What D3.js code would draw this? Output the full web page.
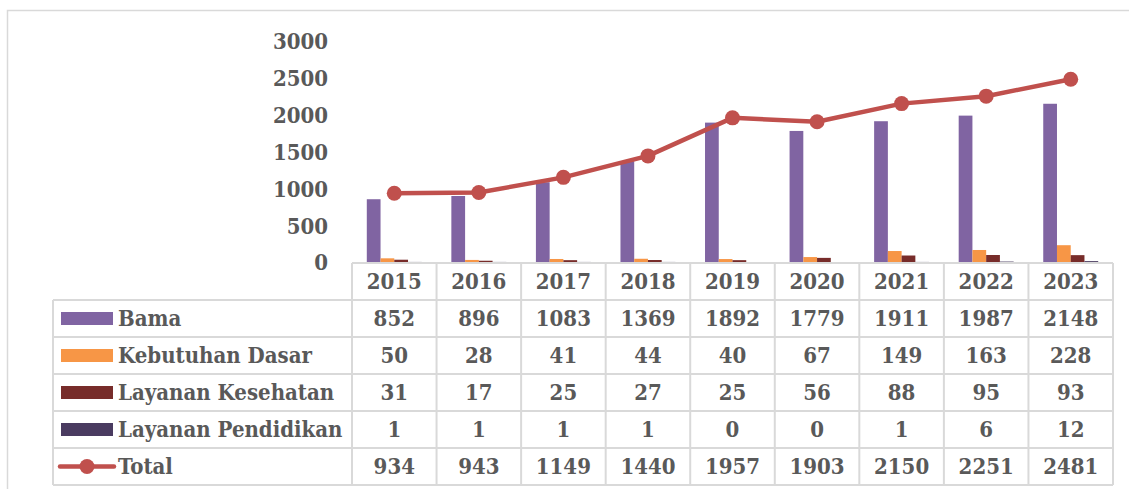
<!DOCTYPE html>
<html lang="id">
<head>
<meta charset="UTF-8">
<script src="https://d3js.org/d3.v7.min.js"></script>
<title>Bama chart</title>
<style>
  body { margin: 0; background: #fff; }
  text { font-family: "DejaVu Serif Condensed", "DejaVu Serif", serif; font-stretch: condensed; font-weight: bold; fill: #595959; }
</style>
</head>
<body>
<svg width="1129" height="489"></svg>
<script>
// data
const years = ["2015", "2016", "2017", "2018", "2019", "2020", "2021", "2022", "2023"];
const seriesNames = ["Bama", "Kebutuhan Dasar", "Layanan Kesehatan", "Layanan Pendidikan"];
const bama = [852, 896, 1083, 1369, 1892, 1779, 1911, 1987, 2148];
const kebutuhanDasar = [50, 28, 41, 44, 40, 67, 149, 163, 228];
const layananKesehatan = [31, 17, 25, 27, 25, 56, 88, 95, 93];
const layananPendidikan = [1, 1, 1, 1, 0, 0, 1, 6, 12];
const total = [934, 943, 1149, 1440, 1957, 1903, 2150, 2251, 2481];
const yTicks = [0, 500, 1000, 1500, 2000, 2500, 3000];

const barValues = [bama, kebutuhanDasar, layananKesehatan, layananPendidikan];
const colors = ["#8064A2", "#F79646", "#772C2A", "#4A3B60"];
const lineColor = "#C0504D";

const svg = d3.select("svg");

// outer chart border
svg.append("rect")
    .attr("x", 7.5).attr("y", 10.5)
    .attr("width", 1140).attr("height", 500)
    .attr("fill", "none").attr("stroke", "#D9D9D9").attr("stroke-width", 1.5);

const x = d3.scaleBand().domain(years).range([352, 1113]);
const y = d3.scaleLinear().domain([0, 3000]).range([262, 41]);

const groupW = x.bandwidth() * 0.65;
const x1 = d3.scaleBand().domain(seriesNames).range([0, groupW]);
const off = (x.bandwidth() - groupW) / 2;

// y axis labels only
const yAxis = d3.axisLeft(y).tickValues(yTicks).tickFormat(d3.format("d")).tickSize(0).tickPadding(0);
const yg = svg.append("g").attr("transform", "translate(328,0)").call(yAxis);
yg.select(".domain").remove();
yg.attr("font-family", null).attr("font-size", null);
yg.selectAll("text").style("font-size", "22px").attr("dy", "0.36em");

// bars
seriesNames.forEach((name, si) => {
    svg.append("g").selectAll("rect")
        .data(barValues[si])
        .join("rect")
        .attr("x", (d, i) => x(years[i]) + off + x1(name))
        .attr("width", x1.bandwidth())
        .attr("y", d => y(d))
        .attr("height", d => y(0) - y(d))
        .attr("fill", colors[si]);
});

// total line
const line = d3.line()
    .x((d, i) => x(years[i]) + x.bandwidth() / 2)
    .y(d => y(d));
svg.append("path")
    .attr("d", line(total))
    .attr("fill", "none").attr("stroke", lineColor).attr("stroke-width", 4.5)
    .attr("stroke-linejoin", "round");
svg.append("g").selectAll("circle")
    .data(total)
    .join("circle")
    .attr("cx", (d, i) => x(years[i]) + x.bandwidth() / 2)
    .attr("cy", d => y(d))
    .attr("r", 7.5)
    .attr("fill", lineColor);

// data table
const rowH = 37;
const tableTop = 263;
const legendLeft = 53;
const tbl = svg.append("g");
const lineStyle = sel => sel.attr("stroke", "#D9D9D9").attr("stroke-width", 2);

// horizontal lines
for (let r = 0; r <= 6; r++) {
    const yy = tableTop + r * rowH;
    tbl.append("line").call(lineStyle)
        .attr("x1", r === 0 ? x.range()[0] : legendLeft).attr("x2", x.range()[1])
        .attr("y1", yy).attr("y2", yy);
}
// vertical lines
years.forEach((yr, i) => {
    tbl.append("line").call(lineStyle)
        .attr("x1", x(yr)).attr("x2", x(yr))
        .attr("y1", tableTop).attr("y2", tableTop + 6 * rowH);
});
tbl.append("line").call(lineStyle)
    .attr("x1", x.range()[1]).attr("x2", x.range()[1])
    .attr("y1", tableTop).attr("y2", tableTop + 6 * rowH);
tbl.append("line").call(lineStyle)
    .attr("x1", legendLeft).attr("x2", legendLeft)
    .attr("y1", tableTop + rowH).attr("y2", tableTop + 6 * rowH);

// header years
tbl.append("g").selectAll("text")
    .data(years)
    .join("text")
    .attr("x", d => x(d) + x.bandwidth() / 2)
    .attr("y", tableTop + rowH / 2)
    .attr("dy", "0.36em")
    .attr("text-anchor", "middle")
    .style("font-size", "22px")
    .text(d => d);

const rows = [...barValues, total];
const rowNames = [...seriesNames, "Total"];
rows.forEach((vals, r) => {
    const cy = tableTop + (r + 1) * rowH + rowH / 2;
    tbl.append("g").selectAll("text")
        .data(vals)
        .join("text")
        .attr("x", (d, i) => x(years[i]) + x.bandwidth() / 2)
        .attr("y", cy)
        .attr("dy", "0.36em")
        .attr("text-anchor", "middle")
        .style("font-size", "22px")
        .text(d => d);
    // legend key
    if (r < 4) {
        tbl.append("rect")
            .attr("x", 61).attr("y", cy - 6.5)
            .attr("width", 52).attr("height", 13)
            .attr("fill", colors[r]);
    } else {
        tbl.append("line")
            .attr("x1", 60).attr("x2", 114).attr("y1", cy).attr("y2", cy)
            .attr("stroke", lineColor).attr("stroke-width", 4.5).attr("stroke-linecap", "round");
        tbl.append("circle").attr("cx", 87).attr("cy", cy).attr("r", 7.5).attr("fill", lineColor);
    }
    tbl.append("text")
        .attr("x", 118).attr("y", cy).attr("dy", "0.36em")
        .style("font-size", "22px")
        .text(rowNames[r]);
});
</script>
</body>
</html>
